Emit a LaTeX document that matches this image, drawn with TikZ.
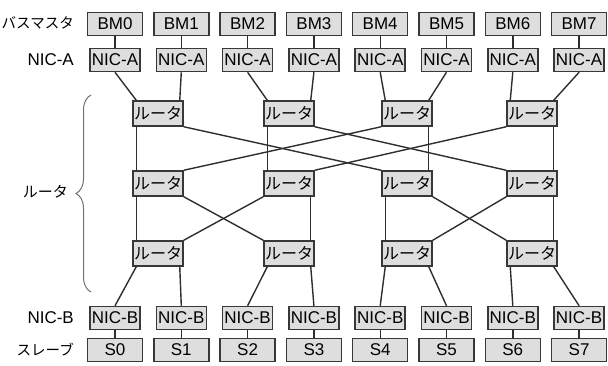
\documentclass[tikz,border=0pt]{standalone}
\usepackage{fontspec}
\setmainfont{Liberation Sans}
\newfontfamily\jp{Noto Sans CJK JP}
\usetikzlibrary{decorations.pathreplacing}
\definecolor{boxfill}{HTML}{DEDEDE}
\definecolor{boxline}{HTML}{383838}
\definecolor{wirecol}{HTML}{2E2E2E}
\definecolor{bracecol}{HTML}{707070}
\begin{document}
\begin{tikzpicture}[x=1pt,y=-1pt,
  box/.style={draw=boxline, fill=boxfill, line width=1.5pt, inner sep=0pt, minimum height=23pt, font=\fontsize{17}{17}\selectfont},
  wide/.style={box, minimum width=55pt},
  nic/.style={box, minimum width=50pt},
  rtr/.style={box, minimum width=50pt, minimum height=25pt, font=\jp\fontsize{16}{16}\selectfont},
  wire/.style={draw=wirecol, line width=1.4pt},
  lab/.style={anchor=east, inner sep=0pt, font=\fontsize{17}{17}\selectfont},
  jlab/.style={anchor=east, inner sep=0pt, font=\jp\fontsize{14.5}{14.5}\selectfont}]
\useasboundingbox (0,0) rectangle (608,365);
% left labels
\node[jlab] (lbm) at (74,23) {バスマスタ};
\node[lab] (lna) at (74,60) {NIC-A};
\node[jlab, font=\jp\fontsize{15}{15}\selectfont] (lr) at (68,192) {ルータ};
\node[lab] (lnb) at (74,318) {NIC-B};
\node[jlab] (ls) at (74,350) {スレーブ};
\draw[bracecol, line width=1pt, decorate, decoration={brace, amplitude=15pt}] (91,292) -- (91,95);
% columns
\foreach \i in {0,...,7} {
  \pgfmathsetmacro\xx{115+66.3*\i}
  \node[wide] (bm\i) at (\xx,24) {BM\i};
  \node[nic] (na\i) at (\xx,60) {NIC-A};
  \node[nic] (nb\i) at (\xx,318) {NIC-B};
  \node[wide] (s\i) at (\xx,350) {S\i};
  \draw[wire] (bm\i) -- (na\i);
  \draw[wire] (nb\i) -- (s\i);
}
% routers
\foreach \j/\xx in {0/158,1/289,2/407,3/532} {
  \node[rtr] (ra\j) at (\xx,113.5) {ルータ};
  \node[rtr] (rb\j) at (\xx,183.5) {ルータ};
  \node[rtr] (rc\j) at (\xx,253.5) {ルータ};
}
% NIC-A to routers, routers to NIC-B
\foreach \j in {0,...,3} {
  \pgfmathtruncatemacro\a{2*\j}
  \pgfmathtruncatemacro\b{2*\j+1}
  \draw[wire] (na\a.south) -- ([xshift=4pt]ra\j.north west);
  \draw[wire] (na\b.south) -- ([xshift=-4pt]ra\j.north east);
  \draw[wire] ([xshift=4pt]rc\j.south west) -- (nb\a.north);
  \draw[wire] ([xshift=-4pt]rc\j.south east) -- (nb\b.north);
}
% verticals
\draw[wire] ([xshift=4pt]ra0.south west) -- ([xshift=4pt]rb0.north west);
\draw[wire] ([xshift=4pt]ra1.south west) -- ([xshift=4pt]rb1.north west);
\draw[wire] ([xshift=-4pt]ra2.south east) -- ([xshift=-4pt]rb2.north east);
\draw[wire] ([xshift=-4pt]ra3.south east) -- ([xshift=-4pt]rb3.north east);
\draw[wire] ([xshift=4pt]rb0.south west) -- ([xshift=4pt]rc0.north west);
\draw[wire] ([xshift=-4pt]rb1.south east) -- ([xshift=-4pt]rc1.north east);
\draw[wire] ([xshift=4pt]rb2.south west) -- ([xshift=4pt]rc2.north west);
\draw[wire] ([xshift=-4pt]rb3.south east) -- ([xshift=-4pt]rc3.north east);
% crosses
\draw[wire] (ra0.south east) -- (rb2.north west);
\draw[wire] (ra1.south east) -- (rb3.north west);
\draw[wire] (ra2.south west) -- (rb0.north east);
\draw[wire] (ra3.south west) -- (rb1.north east);
\draw[wire] (rb0.south east) -- (rc1.north west);
\draw[wire] (rb1.south west) -- (rc0.north east);
\draw[wire] (rb2.south east) -- (rc3.north west);
\draw[wire] (rb3.south west) -- (rc2.north east);
\end{tikzpicture}
\end{document}
